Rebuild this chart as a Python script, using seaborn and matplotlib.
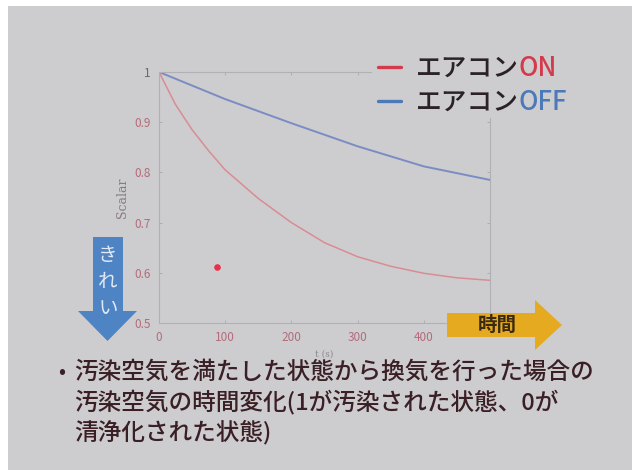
import numpy as np
import pandas as pd
import matplotlib
matplotlib.use("Agg")
import matplotlib.pyplot as plt
import seaborn as sns
from matplotlib.patches import Polygon, Rectangle
from matplotlib.lines import Line2D

# values
t_on = [0, 25, 50, 75, 100, 150, 200, 250, 300, 350, 400, 450, 500]
scalar_on = [1.0, 0.935, 0.885, 0.843, 0.805, 0.748, 0.70, 0.66, 0.632, 0.613, 0.599, 0.59, 0.585]
t_off = [0, 100, 200, 300, 400, 500]
scalar_off = [1.0, 0.946, 0.898, 0.852, 0.812, 0.785]
pointer_t = [88]
pointer_y = [0.612]

x_ticks = [0, 100, 200, 300, 400]
y_ticks = [0.5, 0.6, 0.7, 0.8, 0.9, 1.0]
y_tick_labels = ["0.5", "0.6", "0.7", "0.8", "0.9", "1"]

legend_labels = [("エアコン", "ON"), ("エアコン", "OFF")]
caption = ["汚染空気を満たした状態から換気を行った場合の",
           "汚染空気の時間変化(1が汚染された状態、0が",
           "清浄化された状態)"]

sns.set_theme(style="white")
plt.rcParams['font.family'] = ['Noto Sans CJK JP', 'DejaVu Sans']

W, H = 640, 470
bg = '#cdcdd0'
red_line = '#d98c93'
blue_line = '#7a8cc2'
tick_col = '#b46c7a'
text_col = '#3a1f24'


def fx(px):
    return px / W


def fy(py):
    return 1 - py / H


fig = plt.figure(figsize=(6.4, 4.7), dpi=100, facecolor='white')
fig.patches.append(Rectangle((fx(8), 0), fx(624), fy(6), transform=fig.transFigure,
                             facecolor=bg, edgecolor='none', zorder=-5))

ax = fig.add_axes([fx(159), fy(323), fx(490 - 159), fy(72) - fy(323)])
ax.patch.set_alpha(0)

df_on = pd.DataFrame({'t': t_on, 'Scalar': scalar_on})
df_off = pd.DataFrame({'t': t_off, 'Scalar': scalar_off})
sns.lineplot(data=df_off, x='t', y='Scalar', color=blue_line, lw=1.4, ax=ax)
sns.lineplot(data=df_on, x='t', y='Scalar', color=red_line, lw=1.1, ax=ax)
ax.scatter(pointer_t, pointer_y, s=14, color='#e8304a', zorder=5)

ax.set_xlim(0, 500)
ax.set_ylim(0.5, 1.0)
ax.set_xticks(x_ticks)
ax.set_yticks(y_ticks)
ax.set_yticklabels(y_tick_labels)
ax.tick_params(direction='in', length=2.5, width=0.6, color='#a8a8ac',
               labelsize=8.5, labelcolor=tick_col, top=True, right=True,
               left=True, bottom=True, pad=6)
ax.get_yticklabels()[-1].set_color('#6a6a6e')
for s in ax.spines.values():
    s.set_color('#b0b0b5')
    s.set_linewidth(0.8)
ax.set_xlabel('t (s)', fontsize=6.5, color='#8c8c90', labelpad=4, family='DejaVu Serif')
ax.set_ylabel('Scalar', fontsize=9, color='#8a7b7e', labelpad=4, family='DejaVu Serif')

# legend area (covers the top spine like on the slide)
fig.patches.append(Rectangle((fx(372), fy(118)), fx(220), fy(52) - fy(118),
                             transform=fig.transFigure, facecolor=bg,
                             edgecolor='none', zorder=1))
leg_colors = ['#d43a4c', '#4c79b8']
renderer = fig.canvas.get_renderer()
for i, (base, state) in enumerate(legend_labels):
    yc = 67 + 34 * i
    fig.add_artist(Line2D([fx(378), fx(401)], [fy(yc), fy(yc)], color=leg_colors[i],
                          lw=2.4, transform=fig.transFigure, zorder=2))
    t1 = fig.text(fx(416), fy(yc), base, fontsize=18.5, color='#2a2224',
                  va='baseline', ha='left', zorder=3, weight='medium')
    t1.set_y(fy(yc + 9))
    x_end = t1.get_window_extent(renderer).x1
    fig.text(x_end / fig.bbox.width, fy(yc + 9), state, fontsize=18.5,
             color=leg_colors[i], va='baseline', ha='left', zorder=3, weight='medium')

# blue "きれい" arrow
blue_arrow = [(93, 237), (123, 237), (123, 311), (137, 311), (107.5, 341),
              (78, 311), (93, 311)]
fig.patches.append(Polygon([(fx(a), fy(b)) for a, b in blue_arrow], closed=True,
                           transform=fig.transFigure, facecolor='#4f84c4',
                           edgecolor='none', zorder=2))
for k, ch in enumerate("きれい"):
    fig.text(fx(108), fy(256 + 26 * k), ch, fontsize=14, color='#e2e9f5',
             ha='center', va='center', zorder=3)

# orange "時間" arrow
orange_arrow = [(447, 313), (535, 313), (535, 300), (562, 325), (535, 350),
                (535, 337), (447, 337)]
fig.patches.append(Polygon([(fx(a), fy(b)) for a, b in orange_arrow], closed=True,
                           transform=fig.transFigure, facecolor='#e5aa20',
                           edgecolor='none', zorder=2))
fig.text(fx(497), fy(325), "時間", fontsize=14, color='#3a2a12', weight='bold',
         ha='center', va='center', zorder=3)

# caption
fig.text(fx(62), fy(372), "•", fontsize=15, color=text_col, ha='center', va='center')
for k, line in enumerate(caption):
    fig.text(fx(74), fy(372 + 30 * k), line, fontsize=17, color=text_col,
             ha='left', va='center', weight='medium')

fig.savefig('out.png', dpi=100, facecolor=fig.get_facecolor())
